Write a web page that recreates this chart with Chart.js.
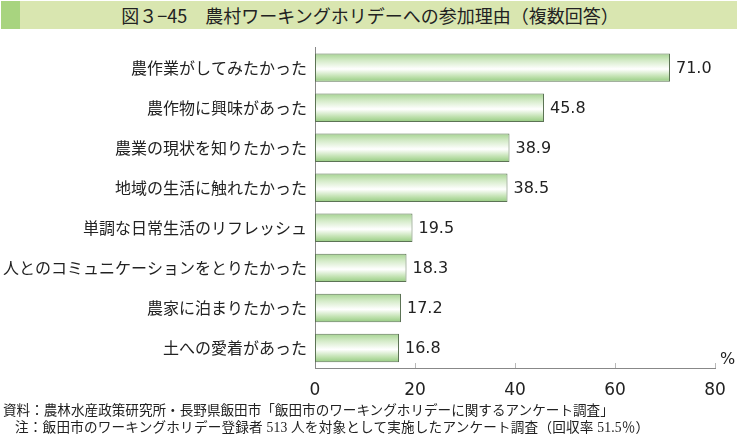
<!DOCTYPE html>
<html lang="ja">
<head>
<meta charset="utf-8">
<script src="https://cdn.jsdelivr.net/npm/chart.js@4.4.1/dist/chart.umd.min.js"></script>
<style>
  html, body { margin: 0; padding: 0; background: #fff; }
  body { width: 738px; height: 436px; position: relative; overflow: hidden; font-family: "Noto Sans CJK JP", sans-serif; }
  .title-bar { position: absolute; left: 1px; top: 1px; width: 736px; height: 28px; background: #d9e6b0; }
  .title-bar .mark { position: absolute; left: 0; top: 0; width: 19px; height: 28px; background: #a8d47f; }
  .title-bar .text { position: absolute; left: 0; right: 0; top: 0; line-height: 28px; text-align: center; font-size: 18px; color: #222; padding-left: 2px; }
  #wrap { position: absolute; left: 0; top: 30px; width: 738px; height: 375px; }
  .note { position: absolute; font-family: "Liberation Serif", "Noto Sans CJK JP", serif; font-size: 13.6px; color: #222; white-space: nowrap; line-height: 16px; }
</style>
</head>
<body>
<div class="title-bar"><div class="mark"></div><div class="text">図３−45　農村ワーキングホリデーへの参加理由（複数回答）</div></div>
<div id="wrap"><canvas id="reasonChart" width="738" height="375"></canvas></div>
<div class="note" style="left:3px; top:403px;">資料：農林水産政策研究所・長野県飯田市「飯田市のワーキングホリデーに関するアンケート調査」</div>
<div class="note" style="left:15px; top:420px; letter-spacing:0.2px;">注：飯田市のワーキングホリデー登録者 513 人を対象として実施したアンケート調査（回収率 51.5％）</div>
<script>
const reasons = [
  "農作業がしてみたかった",
  "農作物に興味があった",
  "農業の現状を知りたかった",
  "地域の生活に触れたかった",
  "単調な日常生活のリフレッシュ",
  "人とのコミュニケーションをとりたかった",
  "農家に泊まりたかった",
  "土への愛着があった",
];
const shares = [71.0, 45.8, 38.9, 38.5, 19.5, 18.3, 17.2, 16.8];
const xTicks = [0, 20, 40, 60, 80];

const numFont = "'DejaVu Sans', sans-serif";
const BAR_PCT = 0.9;
const CAT_PCT = 0.79;

// vertical white-to-green shading, one gradient per bar
function barFill(context) {
  const chart = context.chart;
  const ys = chart.scales.y;
  if (!chart.chartArea || !ys || context.dataIndex === undefined) return "#b5dca0";
  const step = Math.abs(ys.getPixelForValue(1) - ys.getPixelForValue(0));
  const mid = ys.getPixelForValue(context.dataIndex);
  const half = (step * CAT_PCT * BAR_PCT) / 2;
  if (!isFinite(mid) || !isFinite(half) || half <= 0) return "#b5dca0";
  const g = chart.ctx.createLinearGradient(0, mid - half, 0, mid + half);
  g.addColorStop(0, "#a6d392");
  g.addColorStop(0.25, "#d4ebc8");
  g.addColorStop(0.55, "#ffffff");
  g.addColorStop(0.8, "#c4e3b4");
  g.addColorStop(1, "#95cb80");
  return g;
}

const extras = {
  id: "extras",
  afterDatasetsDraw(chart) {
    const { ctx, scales } = chart;
    const xs = scales.x;
    const bottom = chart.chartArea.bottom;
    ctx.save();
    // tick marks pointing up from the axis
    ctx.strokeStyle = "#b8b8b8";
    ctx.lineWidth = 1;
    xTicks.slice(1).forEach((v) => {
      const px = Math.round(xs.getPixelForValue(v)) + 0.5;
      ctx.beginPath();
      ctx.moveTo(px, bottom - 5);
      ctx.lineTo(px, bottom);
      ctx.stroke();
    });
    // value labels
    ctx.fillStyle = "#222";
    ctx.font = "16px " + numFont;
    ctx.textAlign = "left";
    ctx.textBaseline = "middle";
    chart.getDatasetMeta(0).data.forEach((bar, i) => {
      ctx.fillText(shares[i].toFixed(1), bar.x + 6, bar.y + 1);
    });
    // unit
    ctx.fillText("%", xs.right + 5, bottom - 8);
    ctx.restore();
  },
};

new Chart(document.getElementById("reasonChart"), {
  type: "bar",
  data: {
    labels: reasons,
    datasets: [{
      data: shares,
      backgroundColor: barFill,
      borderColor: "#5c7355",
      borderWidth: 1,
      borderSkipped: false,
      barPercentage: BAR_PCT,
      categoryPercentage: CAT_PCT,
    }],
  },
  options: {
    indexAxis: "y",
    responsive: false,
    animation: false,
    layout: { padding: { top: 13, right: 23, left: 0, bottom: 0 } },
    plugins: { legend: { display: false }, tooltip: { enabled: false } },
    scales: {
      x: {
        min: 0,
        max: 80,
        afterBuildTicks(scale) { scale.ticks = xTicks.map((v) => ({ value: v })); },
        afterFit(scale) { scale.height = 37; },
        grid: { display: false, drawTicks: false },
        border: { display: true, color: "#888", width: 1 },
        ticks: { padding: 12, color: "#222", font: { family: numFont, size: 17 }, maxRotation: 0 },
      },
      y: {
        afterFit(scale) { scale.width = 315; },
        grid: { display: false, drawTicks: false },
        border: { display: true, color: "#888", width: 1 },
        ticks: { padding: 8, color: "#222", font: { family: "'Noto Sans CJK JP', sans-serif", size: 16 } },
      },
    },
  },
  plugins: [extras],
});
</script>
</body>
</html>
